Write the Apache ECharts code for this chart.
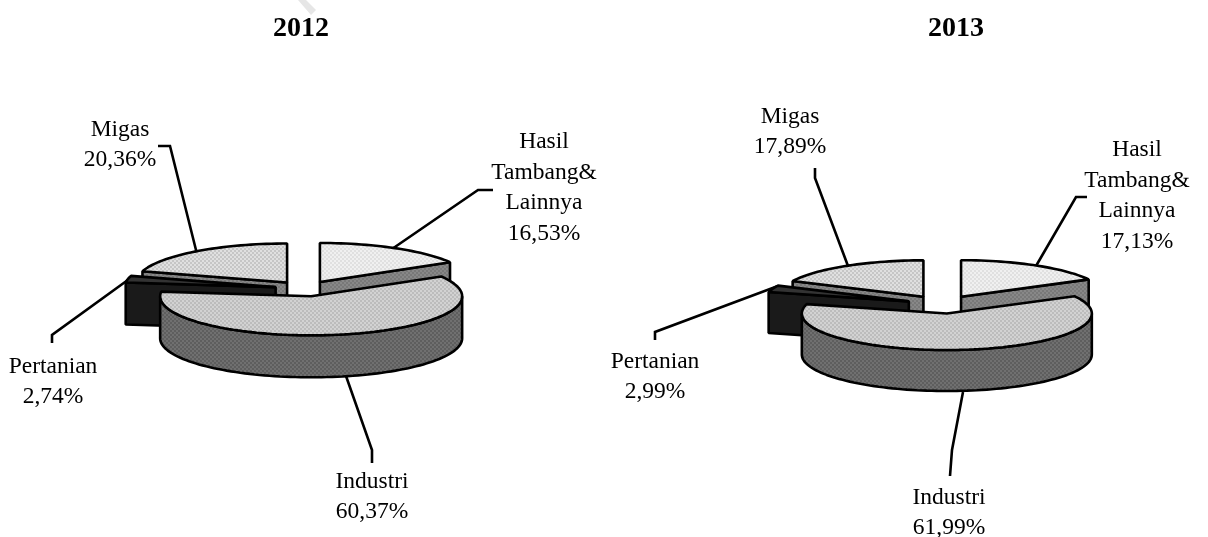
<!DOCTYPE html>
<html>
<head>
<meta charset="utf-8">
<title>2012 - 2013</title>
<style>
  html, body { margin: 0; padding: 0; background: #fff; }
  #main { width: 1208px; height: 537px; }
</style>
<script src="https://cdn.jsdelivr.net/npm/echarts@6/dist/echarts.min.js"></script>
</head>
<body>
<div id="main"></div>
<script>
// 数据
var categories = ["Hasil\nTambang&\nLainnya", "Industri", "Pertanian", "Migas"];
var values2012 = [16.53, 60.37, 2.74, 20.36];
var values2013 = [17.13, 61.99, 2.99, 17.89];
var years = ["2012", "2013"];

// 后面的先画，前面的盖住后面的
var drawOrder = [3, 0, 2, 1];

function makePattern(bg, dot) {
    var c = document.createElement("canvas");
    c.width = 4;
    c.height = 4;
    var ctx = c.getContext("2d");
    ctx.fillStyle = bg;
    ctx.fillRect(0, 0, 4, 4);
    ctx.fillStyle = dot;
    ctx.fillRect(0, 0, 2, 2);
    ctx.fillRect(2, 2, 2, 2);
    return { image: c, repeat: "repeat" };
}

var topFill = [
    makePattern("#f0f0f0", "#e0e0e0"),
    makePattern("#d2d2d2", "#bcbcbc"),
    "#333333",
    makePattern("#e0e0e0", "#c6c6c6"),
];
var wallFill = [
    makePattern("#888888", "#787878"),
    makePattern("#707070", "#5e5e5e"),
    "#1a1a1a",
    makePattern("#888888", "#787878"),
];

function rad(a) {
    return (a * Math.PI) / 180;
}

// 椭圆上的点，角度从12点方向顺时针
function pt(cx, cy, pie, a, down) {
    return [cx + pie.rx * Math.sin(rad(a)), cy - pie.ry * Math.cos(rad(a)) + (down || 0)];
}

function arc(cx, cy, pie, a0, a1, down) {
    var n = Math.max(2, Math.ceil(Math.abs(a1 - a0) / 2));
    var pts = [];
    for (var i = 0; i <= n; i++) {
        pts.push(pt(cx, cy, pie, a0 + ((a1 - a0) * i) / n, down));
    }
    return pts;
}

function face(points, fill) {
    return {
        type: "polygon",
        shape: { points: points },
        style: { fill: fill, stroke: "#000", lineWidth: 2.6, lineJoin: "bevel" },
    };
}

// 一个3D分离饼图
function pieSeries(values, pie) {
    var total = values.reduce(function (s, v) {
        return s + v;
    }, 0);
    var starts = [];
    var sum = 0;
    values.forEach(function (v) {
        starts.push((sum / total) * 360);
        sum += v;
    });
    return {
        type: "custom",
        coordinateSystem: "none",
        silent: true,
        z: 5,
        data: drawOrder.map(function (i) {
            return [values[i], i];
        }),
        renderItem: function (params, api) {
            var i = api.value(1);
            var a0 = starts[i];
            var a1 = a0 + (api.value(0) / total) * 360;
            var mid = (a0 + a1) / 2;
            var cx = pie.cx + pie.explode * Math.sin(rad(mid));
            var cy = pie.cy - pie.explode * (pie.ry / pie.rx) * Math.cos(rad(mid));
            var d = pie.depth;
            var children = [];
            var apex = [cx, cy];
            var apexB = [cx, cy + d];
            // 切面
            if (Math.cos(rad(a0 - 90)) < -0.001) {
                children.push(face([apex, pt(cx, cy, pie, a0), pt(cx, cy, pie, a0, d), apexB], wallFill[i]));
            }
            if (Math.cos(rad(a1 + 90)) < -0.001) {
                children.push(face([apex, pt(cx, cy, pie, a1), pt(cx, cy, pie, a1, d), apexB], wallFill[i]));
            }
            // 外侧面
            var w0 = Math.max(a0, 90);
            var w1 = Math.min(a1, 270);
            if (w1 > w0) {
                children.push(face(arc(cx, cy, pie, w0, w1, 0).concat(arc(cx, cy, pie, w1, w0, d)), wallFill[i]));
            }
            // 顶面
            children.push(face([apex].concat(arc(cx, cy, pie, a0, a1, 0)), topFill[i]));
            return { type: "group", children: children };
        },
    };
}

function label(text, x, y) {
    return {
        type: "text",
        z: 10,
        style: {
            text: text,
            x: x,
            y: y,
            font: "23.5px 'Liberation Serif'",
            lineHeight: 30.5,
            fill: "#000",
            align: "center",
            verticalAlign: "middle",
        },
    };
}

function leader(points) {
    return {
        type: "polyline",
        z: 1,
        shape: { points: points },
        style: { stroke: "#000", lineWidth: 2.6, fill: null },
    };
}

function pct(v) {
    return v.toFixed(2).replace(".", ",") + "%";
}

// 标签和引导线
var graphics = [
    label(categories[3] + "\n" + pct(values2012[3]), 120, 145),
    label(categories[0] + "\n" + pct(values2012[0]), 544, 188),
    label(categories[2] + "\n" + pct(values2012[2]), 53, 382),
    label(categories[1] + "\n" + pct(values2012[1]), 372, 497),
    leader([[158, 146], [170, 146], [197, 254]]),
    leader([[493, 190], [478, 190], [392, 249]]),
    leader([[52, 343], [52, 335], [132, 277]]),
    leader([[372, 463], [372, 450], [346, 376]]),

    label(categories[3] + "\n" + pct(values2013[3]), 790, 132),
    label(categories[0] + "\n" + pct(values2013[0]), 1137, 196),
    label(categories[2] + "\n" + pct(values2013[2]), 655, 377),
    label(categories[1] + "\n" + pct(values2013[1]), 949, 513),
    leader([[815, 168], [815, 178], [848, 266]]),
    leader([[1087, 197], [1076, 197], [1036, 266]]),
    leader([[655, 340], [655, 332], [778, 286]]),
    leader([[950, 476], [952, 450], [963, 392]]),

    // 顶部水印残留
    {
        type: "polygon",
        z: 0,
        shape: { points: [[298, 0], [306, 0], [316, 10], [311, 15]] },
        style: { fill: "#e6e6e6" },
    },
];

var myChart = echarts.init(document.querySelector("#main"));
var option = {
    backgroundColor: "#fff",
    animation: false,
    title: [
        {
            text: years[0],
            left: 296,
            top: 10,
            textAlign: "center",
            textStyle: { fontFamily: "Liberation Serif", fontSize: 28, fontWeight: "bold", color: "#000" },
        },
        {
            text: years[1],
            left: 951,
            top: 10,
            textAlign: "center",
            textStyle: { fontFamily: "Liberation Serif", fontSize: 28, fontWeight: "bold", color: "#000" },
        },
    ],
    graphic: graphics,
    series: [
        pieSeries(values2012, { cx: 305, cy: 288.7, rx: 151, ry: 39, depth: 42, explode: 30 }),
        pieSeries(values2013, { cx: 942.6, cy: 304.5, rx: 145, ry: 36.5, depth: 41, explode: 36 }),
    ],
};
myChart.setOption(option);
</script>
</body>
</html>
